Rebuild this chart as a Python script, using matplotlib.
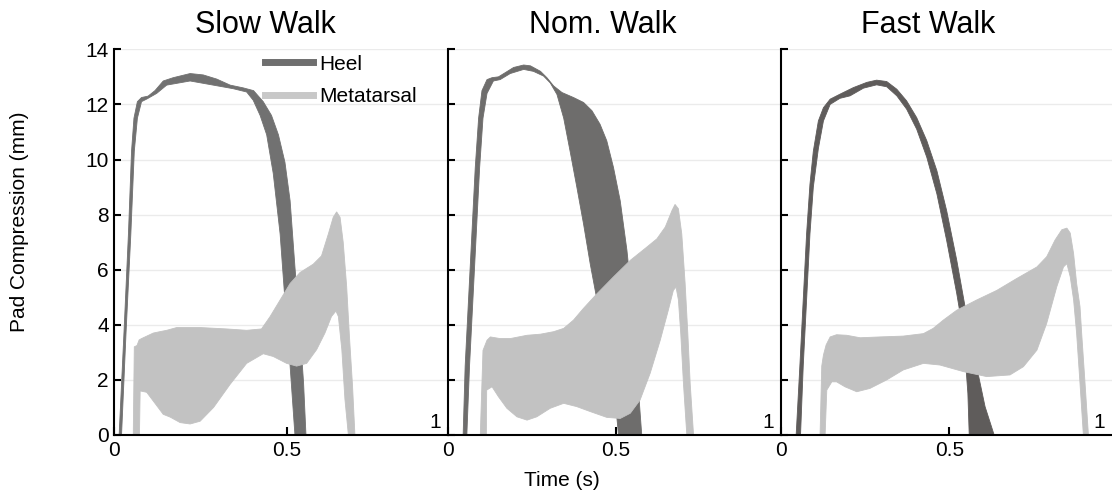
import matplotlib

matplotlib.use("Agg")
import matplotlib.pyplot as plt
from matplotlib.lines import Line2D

plt.rcParams["font.family"] = ["Liberation Sans", "DejaVu Sans"]

TITLES = ["Slow Walk", "Nom. Walk", "Fast Walk"]
Y_TICKS = [0, 2, 4, 6, 8, 10, 12, 14]
X_TICKS = [0, 0.5]
X_TICK_LABELS = ["0", "0.5"]

# band edges as (time s, compression mm); "outer" runs along the left/top side,
# "inner" along the right/bottom side, both from left foot to right foot
SLOW_HEEL_OUTER = [
    (0.014, 0), (0.028, 3.7), (0.041, 7.3), (0.050, 10.3), (0.057, 11.5),
    (0.067, 12.1), (0.079, 12.25), (0.098, 12.3), (0.118, 12.5), (0.142, 12.85),
    (0.171, 12.97), (0.22, 13.12), (0.258, 13.07), (0.297, 12.92), (0.336, 12.7),
    (0.374, 12.6), (0.404, 12.5), (0.432, 12.1), (0.456, 11.6), (0.476, 10.9),
    (0.495, 9.9), (0.51, 8.5), (0.524, 6.1), (0.539, 3.7), (0.549, 1.9), (0.556, 0),
]
SLOW_HEEL_INNER = [
    (0.021, 0), (0.034, 3.7), (0.048, 7.3), (0.058, 10.3), (0.067, 11.5),
    (0.079, 12.1), (0.095, 12.2), (0.123, 12.4), (0.152, 12.7), (0.22, 12.85),
    (0.287, 12.7), (0.345, 12.57), (0.384, 12.45), (0.403, 12.15), (0.423, 11.6),
    (0.442, 10.9), (0.461, 9.5), (0.481, 7.3), (0.495, 4.9), (0.51, 2.5), (0.524, 0),
]
SLOW_META_OUTER = [
    (0.055, 0), (0.058, 3.2), (0.066, 3.25), (0.072, 3.45), (0.079, 3.5),
    (0.113, 3.7), (0.132, 3.75), (0.152, 3.8), (0.181, 3.9), (0.25, 3.9),
    (0.326, 3.85), (0.384, 3.8), (0.427, 3.85), (0.452, 4.3), (0.481, 4.9),
    (0.51, 5.5), (0.539, 5.9), (0.577, 6.2), (0.601, 6.5), (0.621, 7.3),
    (0.635, 7.9), (0.645, 8.1), (0.655, 7.9), (0.664, 7.0), (0.674, 5.4),
    (0.682, 3.6), (0.691, 1.8), (0.698, 0),
]
SLOW_META_INNER = [
    (0.073, 0), (0.075, 1.6), (0.094, 1.55), (0.118, 1.15), (0.142, 0.75),
    (0.162, 0.65), (0.191, 0.45), (0.22, 0.4), (0.249, 0.5), (0.288, 1.0),
    (0.336, 1.84), (0.384, 2.6), (0.432, 2.95), (0.461, 2.85), (0.5, 2.6),
    (0.529, 2.5), (0.558, 2.6), (0.587, 3.1), (0.611, 3.7), (0.63, 4.3),
    (0.643, 4.5), (0.65, 4.3), (0.66, 3.1), (0.669, 1.3), (0.679, 0),
]

NOM_HEEL_OUTER = [
    (0.045, 0), (0.051, 2.5), (0.061, 4.9), (0.071, 7.3), (0.081, 9.7),
    (0.091, 11.5), (0.101, 12.5), (0.116, 12.9), (0.131, 12.97), (0.150, 13.0),
    (0.170, 13.15), (0.195, 13.34), (0.225, 13.43), (0.245, 13.4), (0.275, 13.2),
    (0.294, 12.97), (0.314, 12.67), (0.339, 12.43), (0.373, 12.25), (0.403, 12.07),
    (0.428, 11.77), (0.452, 11.28), (0.472, 10.68), (0.492, 9.71), (0.512, 8.5),
    (0.532, 6.7), (0.547, 4.9), (0.561, 2.5), (0.576, 0),
]
NOM_HEEL_INNER = [
    (0.056, 0), (0.064, 2.5), (0.074, 4.9), (0.084, 7.3), (0.094, 9.7),
    (0.104, 11.5), (0.116, 12.4), (0.135, 12.85), (0.155, 12.9), (0.185, 13.12),
    (0.225, 13.27), (0.254, 13.2), (0.284, 13.03), (0.304, 12.78), (0.324, 12.36),
    (0.344, 11.5), (0.363, 10.3), (0.383, 9.0), (0.403, 7.66), (0.423, 6.2),
    (0.443, 4.9), (0.462, 3.68), (0.482, 2.48), (0.497, 1.27), (0.507, 0),
]
NOM_META_OUTER = [
    (0.096, 0), (0.104, 3.07), (0.116, 3.44), (0.126, 3.56), (0.155, 3.5),
    (0.185, 3.5), (0.235, 3.62), (0.275, 3.66), (0.314, 3.75), (0.344, 3.87),
    (0.373, 4.17), (0.403, 4.6), (0.443, 5.13), (0.492, 5.74), (0.542, 6.34),
    (0.591, 6.82), (0.621, 7.12), (0.646, 7.55), (0.666, 8.15), (0.675, 8.37),
    (0.685, 8.21), (0.695, 7.3), (0.705, 5.5), (0.713, 3.68), (0.72, 1.87), (0.73, 0),
]
NOM_META_INNER = [
    (0.114, 0), (0.115, 1.63), (0.131, 1.75), (0.150, 1.39), (0.175, 0.97),
    (0.205, 0.66), (0.235, 0.54), (0.264, 0.66), (0.304, 0.97), (0.344, 1.15),
    (0.383, 1.03), (0.423, 0.85), (0.472, 0.64), (0.512, 0.6), (0.542, 0.79),
    (0.571, 1.27), (0.601, 2.24), (0.631, 3.44), (0.655, 4.53), (0.67, 5.25),
    (0.678, 5.37), (0.685, 4.9), (0.692, 3.68), (0.70, 1.87), (0.71, 0),
]

FAST_HEEL_OUTER = [
    (0.045, 0), (0.056, 2.5), (0.066, 4.9), (0.076, 7.3), (0.086, 9.1),
    (0.096, 10.3), (0.111, 11.4), (0.126, 11.88), (0.146, 12.19), (0.175, 12.37),
    (0.215, 12.61), (0.255, 12.8), (0.284, 12.88), (0.314, 12.83), (0.344, 12.55),
    (0.373, 12.13), (0.403, 11.52), (0.433, 10.68), (0.463, 9.59), (0.492, 8.14),
    (0.522, 6.34), (0.552, 4.29), (0.581, 2.48), (0.606, 1.03), (0.633, 0),
]
FAST_HEEL_INNER = [
    (0.058, 0), (0.066, 2.5), (0.076, 4.9), (0.086, 7.3), (0.096, 9.0),
    (0.111, 10.4), (0.126, 11.4), (0.146, 12.0), (0.175, 12.22), (0.205, 12.31),
    (0.245, 12.59), (0.284, 12.71), (0.314, 12.64), (0.344, 12.31), (0.373, 11.83),
    (0.403, 11.1), (0.433, 10.08), (0.463, 8.75), (0.492, 7.06), (0.522, 5.13),
    (0.542, 3.68), (0.555, 1.51), (0.559, 0),
]
FAST_META_OUTER = [
    (0.116, 0), (0.121, 2.5), (0.126, 2.9), (0.134, 3.27), (0.146, 3.56),
    (0.165, 3.64), (0.195, 3.62), (0.235, 3.53), (0.294, 3.56), (0.363, 3.59),
    (0.423, 3.68), (0.452, 3.87), (0.482, 4.17), (0.522, 4.53), (0.581, 4.9),
    (0.641, 5.25), (0.70, 5.68), (0.76, 6.1), (0.789, 6.47), (0.814, 7.08),
    (0.834, 7.45), (0.849, 7.51), (0.859, 7.33), (0.869, 6.58), (0.878, 5.5),
    (0.888, 4.66), (0.893, 3.68), (0.903, 1.87), (0.913, 0),
]
FAST_META_INNER = [
    (0.131, 0), (0.136, 1.63), (0.151, 1.93), (0.165, 1.93), (0.19, 1.75),
    (0.225, 1.57), (0.264, 1.69), (0.314, 2.0), (0.363, 2.36), (0.423, 2.6),
    (0.472, 2.54), (0.542, 2.3), (0.611, 2.12), (0.68, 2.18), (0.72, 2.48),
    (0.76, 3.08), (0.789, 4.05), (0.819, 5.38), (0.839, 6.1), (0.849, 6.22),
    (0.859, 5.74), (0.869, 4.9), (0.878, 3.68), (0.888, 1.87), (0.898, 0),
]

HEEL_COLORS = ["#717171", "#6e6d6c", "#5f5c5b"]
META_COLOR = "#c2c2c2"
LEGEND_HEEL = "#6f6f6f"
LEGEND_META = "#c8c8c8"

BANDS = [
    (SLOW_HEEL_OUTER, SLOW_HEEL_INNER, SLOW_META_OUTER, SLOW_META_INNER),
    (NOM_HEEL_OUTER, NOM_HEEL_INNER, NOM_META_OUTER, NOM_META_INNER),
    (FAST_HEEL_OUTER, FAST_HEEL_INNER, FAST_META_OUTER, FAST_META_INNER),
]

# axes placement in pixels (left, right) and visible time range per panel
W, H = 1112, 495
PANEL_PX = [(114.3, 448.0), (448.0, 781.0), (781.0, 1112.0)]
X_MAX = [0.968, 0.990, 0.983]
TITLE_X = [0.452, 0.465, 0.443]
Y0_PX, Y14_PX = 435.0, 49.3
FS = 15


def draw_band(ax, outer, inner, color):
    pts = list(outer) + list(reversed(inner))
    xs = [p[0] for p in pts]
    ys = [p[1] for p in pts]
    ax.fill(xs, ys, color=color, lw=0.6, ec=color, zorder=2)


fig = plt.figure(figsize=(W / 100, H / 100), dpi=100)
axes = []
for i, (left, right) in enumerate(PANEL_PX):
    ax = fig.add_axes([left / W, 1 - Y0_PX / H, (right - left) / W, (Y0_PX - Y14_PX) / H])
    heel_out, heel_in, meta_out, meta_in = BANDS[i]
    draw_band(ax, heel_out, heel_in, HEEL_COLORS[i])
    draw_band(ax, meta_out, meta_in, META_COLOR)

    ax.set_xlim(0, X_MAX[i])
    ax.set_ylim(0, 14)
    ax.set_yticks(Y_TICKS)
    ax.set_xticks(X_TICKS)
    ax.set_xticklabels(X_TICK_LABELS)
    ax.grid(axis="y", color="#ebebeb", lw=1.0)
    ax.set_axisbelow(True)
    for side in ("top", "right"):
        ax.spines[side].set_visible(False)
    for side in ("left", "bottom"):
        ax.spines[side].set_linewidth(1.5)
        ax.spines[side].set_zorder(5)
    ax.tick_params(direction="in", width=1.5, labelsize=FS, pad=4)
    ax.tick_params(axis="x", length=6)
    ax.tick_params(axis="y", length=5)
    if i > 0:
        ax.tick_params(axis="y", labelleft=False)
    ax.set_title(TITLES[i], fontsize=22, x=TITLE_X[i], pad=12)
    ax.text(1 - 7 / (right - left), 0.008, "1", transform=ax.transAxes,
            ha="right", va="bottom", fontsize=FS)
    axes.append(ax)

handles = [Line2D([], [], color=LEGEND_HEEL, lw=5),
           Line2D([], [], color=LEGEND_META, lw=5)]
axes[0].legend(handles, ["Heel", "Metatarsal"], loc="upper left",
               bbox_to_anchor=(0.452, 0.986), frameon=False, fontsize=FS,
               handlelength=2.3, handletextpad=0.3, labelspacing=0.64,
               borderpad=0, borderaxespad=0)

fig.text(562 / W, 1 - 480 / H, "Time (s)", ha="center", va="center", fontsize=FS)
fig.text(19.5 / W, 1 - 222 / H, "Pad Compression (mm)", ha="center", va="center",
         rotation=90, fontsize=FS)

fig.savefig("out.png", dpi=100)
